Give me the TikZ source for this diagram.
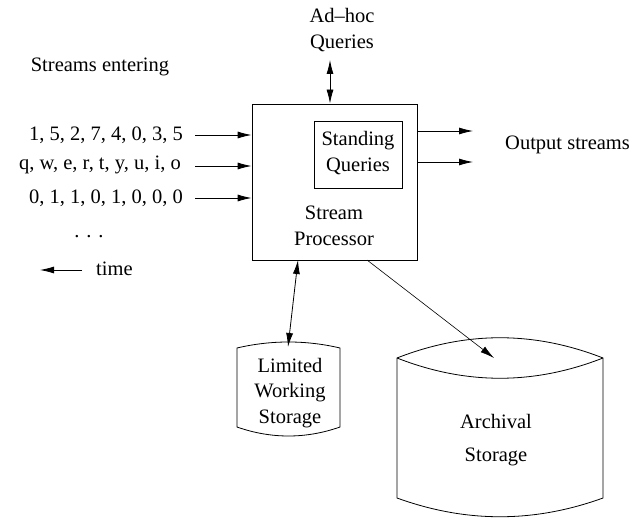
\documentclass[tikz,border=0pt]{standalone}
\usepackage{fontspec}
\setmainfont{Liberation Serif}
\newfontfamily\tms{Liberation Serif}
\usetikzlibrary{arrows.meta}
\begin{document}
\begin{tikzpicture}[x=1pt,y=-1pt,
  txt/.style={inner sep=0pt,align=center,font=\tms\fontsize{20.5}{25.5}\selectfont},
  box/.style={draw,line width=0.8pt,inner sep=0pt},
  arr/.style={line width=0.8pt,-{Latex[length=14pt,width=7pt]}},
  darr/.style={line width=0.8pt,{Latex[length=14pt,width=7pt]}-{Latex[length=14pt,width=7pt]}},
  thin arr/.style={line width=0.6pt,-{Latex[length=14pt,width=7pt]}},
  cyl/.style={draw,line width=0.8pt}]
\useasboundingbox (0,0) rectangle (632,518);
% main boxes
\node[box,minimum width=165pt,minimum height=156pt] (sp) at (334.5,182) {};
\node[box,minimum width=88pt,minimum height=67pt] (sq) at (358,154.5) {};
\node[txt] (sqt) at (358,153) {Standing\\Queries};
\node[txt] (spt) at (334,226) {Stream\\Processor};
% ad-hoc
\node[txt] (adhoc) at (342,30) {Ad–hoc\\Queries};
\coordinate (adb) at (330,60);
\draw[darr] (adb) -- (adb |- sp.north);
% input streams
\node[txt] (se) at (100,67) {Streams entering};
\node[txt,anchor=east] (s1) at (183,135) {1, 5, 2, 7, 4, 0, 3, 5};
\node[txt,anchor=east] (s2) at (181,165) {q, w, e, r, t, y, u, i, o};
\node[txt,anchor=east] (s3) at (183,198) {0, 1, 1, 0, 1, 0, 0, 0};
\node[txt] (dots) at (89,237) {. . .};
\coordinate (a1) at (195,135);
\coordinate (a2) at (195,166);
\coordinate (a3) at (195,198);
\draw[arr] (a1) -- (a1 -| sp.west);
\draw[arr] (a2) -- (a2 -| sp.west);
\draw[arr] (a3) -- (a3 -| sp.west);
\coordinate (t1) at (82,270);
\coordinate (t0) at (40,270);
\draw[arr] (t1) -- (t0);
\node[txt,anchor=west] (time) at (96,269) {time};
% outputs
\coordinate (o1) at (473,131);
\coordinate (o2) at (473,162);
\draw[arr] (o1 -| sp.east) -- (o1);
\draw[arr] (o2 -| sp.east) -- (o2);
\node[txt,anchor=west] (out) at (505,145) {Output streams};
% limited working storage cylinder
\draw[cyl] (237,348) .. controls (271,340) and (306,340) .. (340,348)
  -- (340,427) .. controls (306,439) and (271,439) .. (237,427) -- cycle;
\node[txt] (lws) at (290,393) {Limited\\Working\\Storage};
\coordinate (lwstop) at (288,347);
\draw[darr] (298,260) coordinate (spl) -- (lwstop);
% archival storage cylinder
\draw[cyl] (397,358) .. controls (466,331) and (534,331) .. (603,358)
  -- (603,498) .. controls (534,523) and (466,523) .. (397,498) -- cycle;
\draw[cyl] (397,358) .. controls (466,385) and (534,385) .. (603,358);
\node[txt] (arct) at (496,421) {Archival};
\node[txt] (arcb) at (496,457) {Storage};
\coordinate (arctop) at (494,358);
\draw[thin arr] (367,260) coordinate (spa) -- (arctop);
\end{tikzpicture}
\end{document}
